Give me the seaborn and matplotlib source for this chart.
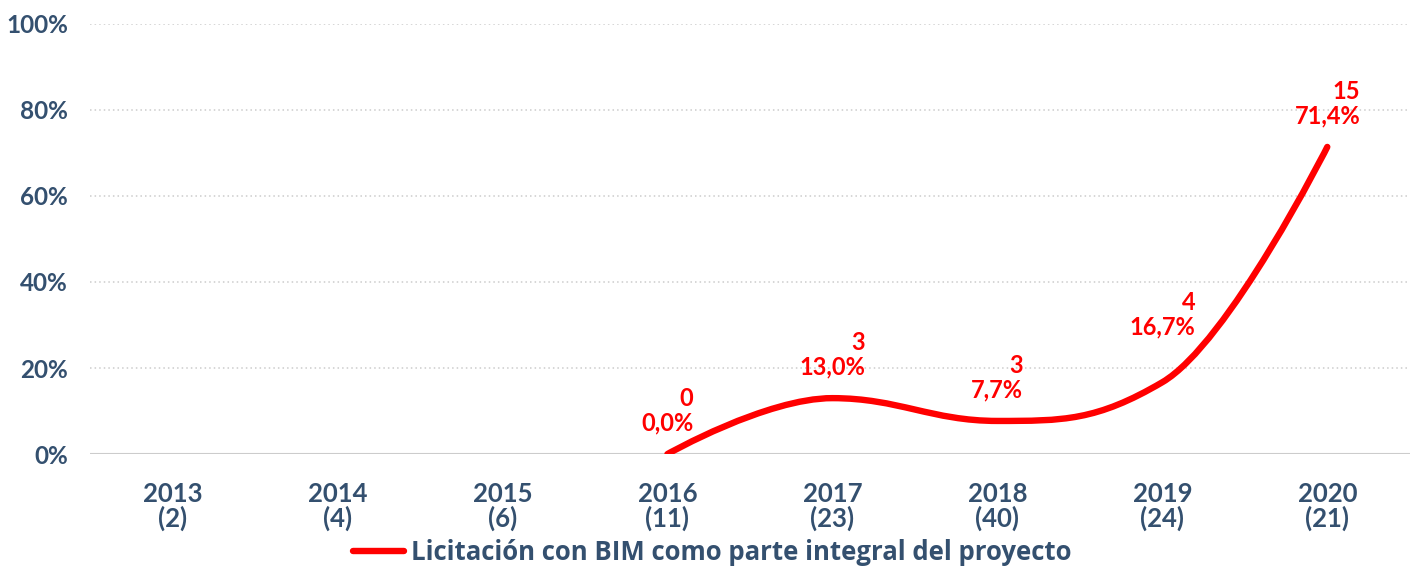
import numpy as np
import seaborn as sns
import matplotlib.pyplot as plt
from matplotlib.path import Path
from matplotlib.patches import PathPatch
from matplotlib.lines import Line2D

years = ['2013', '2014', '2015', '2016', '2017', '2018', '2019', '2020']
totals = [2, 4, 6, 11, 23, 40, 24, 21]
# only 2016-2020 have data
line_years = ['2016', '2017', '2018', '2019', '2020']
bim_counts = [0, 3, 3, 4, 15]
bim_pct = [0.0, 13.0, 7.7, 16.7, 71.4]
series_name = 'Licitación con BIM como parte integral del proyecto'

RED = '#ff0000'
BLUE = '#34506f'


def spline_path(xs, ys, smoothing=1.5):
    # highcharts-like spline control points
    n = len(xs)
    left = [(x, y) for x, y in zip(xs, ys)]
    right = [(x, y) for x, y in zip(xs, ys)]
    denom = smoothing + 1
    for i in range(1, n - 1):
        x, y = xs[i], ys[i]
        lx, ly = xs[i - 1], ys[i - 1]
        nx, ny = xs[i + 1], ys[i + 1]
        lcx = (smoothing * x + lx) / denom
        lcy = (smoothing * y + ly) / denom
        rcx = (smoothing * x + nx) / denom
        rcy = (smoothing * y + ny) / denom
        if rcx != lcx:
            corr = (rcy - lcy) * (rcx - x) / (rcx - lcx) + y - rcy
            lcy += corr
            rcy += corr
        if lcy > ly and lcy > y:
            lcy = max(ly, y)
            rcy = 2 * y - lcy
        elif lcy < ly and lcy < y:
            lcy = min(ly, y)
            rcy = 2 * y - lcy
        if rcy > ny and rcy > y:
            rcy = max(ny, y)
            lcy = 2 * y - rcy
        elif rcy < ny and rcy < y:
            rcy = min(ny, y)
            lcy = 2 * y - rcy
        left[i] = (lcx, lcy)
        right[i] = (rcx, rcy)
    verts = [(xs[0], ys[0])]
    codes = [Path.MOVETO]
    for i in range(1, n):
        verts += [right[i - 1], left[i], (xs[i], ys[i])]
        codes += [Path.CURVE4] * 3
    return Path(verts, codes)


sns.set_theme(style='white')
plt.rcParams['font.family'] = ['Lato', 'DejaVu Sans']
plt.rcParams['font.weight'] = 'bold'

fig = plt.figure(figsize=(14.16, 5.69), dpi=100)
ax = fig.add_axes([0.0636, 0.202, 0.932, 0.756])

xpos = [years.index(y) for y in line_years]
path = spline_path(xpos, bim_pct)
ax.add_patch(PathPatch(path, facecolor='none', edgecolor=RED, lw=4.6,
                       capstyle='round', joinstyle='round', zorder=3))

# labels: count on top, percentage below
label_offsets = [20, 20, 20, 44, 20]
for x, c, p, off in zip(xpos, bim_counts, bim_pct, label_offsets):
    txt = f'{c}\n{p:.1f}%'.replace('.', ',')
    ax.annotate(txt, (x, p), xytext=(0, off), textcoords='offset pixels',
                ha='center', va='bottom', multialignment='right',
                color=RED, fontsize=17, fontweight='bold', linespacing=1.05)

ax.set_xlim(-0.5, len(years) - 0.5)
ax.set_ylim(0, 100)
ax.set_xticks(range(len(years)))
ax.set_xticklabels([f'{y}\n({t})' for y, t in zip(years, totals)],
                   color=BLUE, fontsize=18.5, fontweight='bold', linespacing=1.0)
ax.set_yticks(range(0, 101, 20))
ax.set_yticklabels([f'{v}%' for v in range(0, 101, 20)],
                   color=BLUE, fontsize=17.5, fontweight='bold')
ax.tick_params(axis='x', length=0, pad=20)
ax.tick_params(axis='y', length=0, pad=16)

for v in range(20, 101, 20):
    ax.axhline(v, color='#cccccc', lw=1.1, ls=(0, (1, 2)), zorder=1)
ax.axhline(0, color='#cccccc', lw=1.5, zorder=1)
sns.despine(ax=ax, left=True, bottom=True)

handle = Line2D([], [], color=RED, lw=4.6, solid_capstyle='round')
leg = fig.legend([handle], [series_name], loc='lower center',
                 bbox_to_anchor=(0.503, -0.036), frameon=False,
                 handlelength=2.0, handletextpad=0.25,
                 prop={'family': 'Open Sans', 'size': 18.5, 'weight': 'bold'})
for t in leg.get_texts():
    t.set_color(BLUE)

fig.savefig('out.png', dpi=100)
